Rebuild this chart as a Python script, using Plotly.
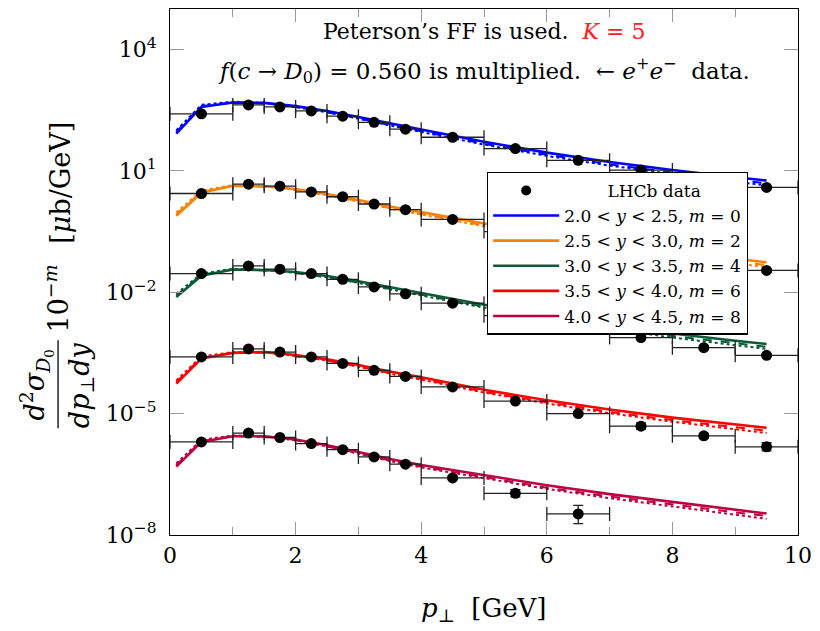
import numpy as np
import plotly.graph_objects as go

# ---------------- data ----------------
# LHCb data: bin centres and edges in pT [GeV]
pt_data = [0.5, 1.25, 1.75, 2.25, 2.75, 3.25, 3.75, 4.5, 5.5, 6.5, 7.5, 8.5, 9.5]
pt_low = [0.0, 1.0, 1.5, 2.0, 2.5, 3.0, 3.5, 4.0, 5.0, 6.0, 7.0, 8.0, 9.0]
pt_high = [1.0, 1.5, 2.0, 2.5, 3.0, 3.5, 4.0, 5.0, 6.0, 7.0, 8.0, 9.0, 10.0]

# log10 of scaled cross-section for each rapidity bin
data_y1 = [2.41, 2.63, 2.58, 2.48, 2.35, 2.20, 2.03, 1.83, 1.55, 1.26, 1.02, 0.80, 0.59]
data_y2 = [0.44, 0.67, 0.62, 0.48, 0.36, 0.18, 0.04, -0.20, -0.50, -0.78, -1.02, -1.22, -1.46]
data_y3 = [-1.54, -1.35, -1.43, -1.54, -1.68, -1.87, -2.04, -2.27, -2.58, -2.88, -3.12, -3.37, -3.56]
data_y4 = [-3.60, -3.40, -3.48, -3.60, -3.76, -3.93, -4.08, -4.34, -4.69, -5.00, -5.31, -5.55, -5.82]
data_y5 = [-5.70, -5.48, -5.59, -5.74, -5.89, -6.07, -6.25, -6.59, -6.97, -7.48]

# log10 error half-widths (up / down)
err_up1 = [0.03] * 13
err_up2 = [0.03] * 13
err_up3 = [0.03] * 13
err_up4 = [0.03, 0.03, 0.03, 0.03, 0.03, 0.03, 0.03, 0.03, 0.03, 0.04, 0.08, 0.06, 0.10]
err_up5 = [0.03, 0.03, 0.03, 0.03, 0.03, 0.03, 0.03, 0.04, 0.09, 0.21]
err_dn5 = [0.03, 0.03, 0.03, 0.03, 0.03, 0.03, 0.03, 0.04, 0.09, 0.24]

# theory curves
pt_th = [0.1, 0.5, 1.0, 1.5, 2.0, 2.5, 3.0, 3.5, 4.0, 5.0, 6.0, 7.0, 8.0, 9.0, 9.5]
th1_solid = [1.92, 2.58, 2.69, 2.68, 2.60, 2.48, 2.33, 2.17, 2.02, 1.72, 1.45, 1.22, 1.02, 0.84, 0.76]
th1_dash = [1.96, 2.60, 2.69, 2.67, 2.58, 2.45, 2.30, 2.13, 1.98, 1.67, 1.40, 1.16, 0.96, 0.77, 0.69]
th1_dot = [2.00, 2.63, 2.71, 2.68, 2.58, 2.45, 2.29, 2.12, 1.96, 1.65, 1.37, 1.13, 0.92, 0.73, 0.64]
th2_solid = [-0.11, 0.46, 0.63, 0.62, 0.55, 0.43, 0.28, 0.12, -0.02, -0.30, -0.56, -0.80, -1.00, -1.18, -1.26]
th2_dash = [-0.07, 0.48, 0.63, 0.61, 0.53, 0.40, 0.25, 0.08, -0.06, -0.35, -0.61, -0.86, -1.06, -1.25, -1.33]
th2_dot = [-0.03, 0.51, 0.65, 0.62, 0.53, 0.40, 0.24, 0.07, -0.08, -0.37, -0.64, -0.89, -1.10, -1.29, -1.38]
th3_solid = [-2.12, -1.59, -1.44, -1.45, -1.50, -1.60, -1.73, -1.88, -2.02, -2.31, -2.57, -2.81, -3.02, -3.20, -3.28]
th3_dash = [-2.08, -1.57, -1.44, -1.46, -1.52, -1.63, -1.76, -1.92, -2.06, -2.36, -2.62, -2.87, -3.08, -3.27, -3.35]
th3_dot = [-2.04, -1.54, -1.42, -1.45, -1.52, -1.63, -1.77, -1.93, -2.08, -2.38, -2.65, -2.90, -3.12, -3.31, -3.40]
th4_solid = [-4.26, -3.64, -3.50, -3.48, -3.55, -3.66, -3.80, -3.96, -4.10, -4.41, -4.67, -4.90, -5.10, -5.27, -5.35]
th4_dash = [-4.22, -3.62, -3.50, -3.49, -3.57, -3.69, -3.83, -4.00, -4.14, -4.46, -4.72, -4.96, -5.16, -5.34, -5.42]
th4_dot = [-4.18, -3.59, -3.48, -3.48, -3.57, -3.69, -3.84, -4.01, -4.16, -4.48, -4.75, -4.99, -5.20, -5.39, -5.48]
th5_solid = [-6.31, -5.70, -5.56, -5.56, -5.64, -5.78, -5.95, -6.12, -6.27, -6.52, -6.77, -6.99, -7.18, -7.37, -7.47]
th5_dash = [-6.27, -5.68, -5.56, -5.57, -5.66, -5.81, -5.98, -6.16, -6.31, -6.57, -6.83, -7.05, -7.25, -7.44, -7.53]
th5_dot = [-6.23, -5.65, -5.54, -5.56, -5.66, -5.81, -5.99, -6.17, -6.33, -6.60, -6.86, -7.09, -7.29, -7.49, -7.60]

labels = [
    "2.0 &lt; <i>y</i> &lt; 2.5, <i>m</i> = 0",
    "2.5 &lt; <i>y</i> &lt; 3.0, <i>m</i> = 2",
    "3.0 &lt; <i>y</i> &lt; 3.5, <i>m</i> = 4",
    "3.5 &lt; <i>y</i> &lt; 4.0, <i>m</i> = 6",
    "4.0 &lt; <i>y</i> &lt; 4.5, <i>m</i> = 8",
]
colors = ["#0000FF", "#FF8000", "#0B5A38", "#FF0000", "#BF0040"]

ytick_vals = [1e-8, 1e-5, 1e-2, 1e1, 1e4]
ytick_text = ["10<sup>−8</sup>", "10<sup>−5</sup>", "10<sup>−2</sup>", "10<sup>1</sup>", "10<sup>4</sup>"]

FONT = "DejaVu Serif"
NB = "\u00a0"

fig = go.Figure()

theory = [
    (th1_solid, th1_dash, th1_dot),
    (th2_solid, th2_dash, th2_dot),
    (th3_solid, th3_dash, th3_dot),
    (th4_solid, th4_dash, th4_dot),
    (th5_solid, th5_dash, th5_dot),
]

# legend: data first
fig.add_trace(go.Scatter(x=[None], y=[None], mode="markers", name=NB * 8 + "LHCb data",
                         marker=dict(color="black", size=10), showlegend=True))

for i, (s, d, o) in enumerate(theory):
    fig.add_trace(go.Scatter(x=pt_th, y=np.power(10.0, o), mode="lines",
                             line=dict(color=colors[i], width=2, dash="dot"),
                             showlegend=False, hoverinfo="skip"))
    fig.add_trace(go.Scatter(x=pt_th, y=np.power(10.0, d), mode="lines",
                             line=dict(color=colors[i], width=2, dash="dash"),
                             showlegend=False, hoverinfo="skip"))
    fig.add_trace(go.Scatter(x=pt_th, y=np.power(10.0, s), mode="lines",
                             line=dict(color=colors[i], width=2.6),
                             name=labels[i], showlegend=True))

data_sets = [
    (data_y1, err_up1, err_up1),
    (data_y2, err_up2, err_up2),
    (data_y3, err_up3, err_up3),
    (data_y4, err_up4, err_up4),
    (data_y5, err_up5, err_dn5),
]
for yl, eu, ed in data_sets:
    n = len(yl)
    x = np.array(pt_data[:n])
    lo = np.array(pt_low[:n])
    hi = np.array(pt_high[:n])
    yv = np.power(10.0, np.array(yl))
    up = yv * (np.power(10.0, np.array(eu)) - 1)
    dn = yv * (1 - np.power(10.0, -np.array(ed)))
    fig.add_trace(go.Scatter(
        x=x, y=yv, mode="markers",
        marker=dict(color="black", size=11),
        error_x=dict(type="data", symmetric=False, array=hi - x, arrayminus=x - lo,
                     color="#222222", thickness=1.3, width=7),
        error_y=dict(type="data", symmetric=False, array=up, arrayminus=dn,
                     color="#222222", thickness=1.3, width=5),
        showlegend=False))

# plot area geometry
L, R, T, B = 170, 16, 8, 96
W, H = 820, 631
pw, ph = W - L - R, H - T - B


def px(xp):
    return (xp - L) / pw


def py(yp):
    return (H - B - yp) / ph


fig.update_layout(
    width=W, height=H,
    margin=dict(l=L, r=R, t=T, b=B),
    paper_bgcolor="white", plot_bgcolor="white",
    font=dict(family=FONT, color="black", size=20),
    legend=dict(x=px(490), y=py(171), xanchor="left", yanchor="top",
                bgcolor="white", bordercolor="black", borderwidth=1.2,
                font=dict(family=FONT, size=17), tracegroupgap=0,
                itemwidth=66),
    xaxis=dict(range=[0, 10], tickvals=[0, 2, 4, 6, 8, 10], ticks="inside",
               ticklen=13, tickcolor="#999999", tickwidth=1,
               minor=dict(ticks="inside", ticklen=8, dtick=1, tickcolor="#999999"),
               showline=True, linecolor="black", linewidth=1.3, mirror="allticks",
               showgrid=False, zeroline=False,
               tickfont=dict(family=FONT, size=22)),
    yaxis=dict(type="log", range=[-8, 5], tickvals=ytick_vals, ticktext=ytick_text,
               ticks="inside", ticklen=14, tickcolor="#999999", tickwidth=1,
               showline=True, linecolor="black", linewidth=1.3, mirror="allticks",
               showgrid=False, zeroline=False, ticklabelstandoff=8,
               tickfont=dict(family=FONT, size=22)),
)

# x-axis title
fig.add_annotation(xref="paper", yref="paper", x=px(487), y=py(610),
                   text="<i>p</i><sub>⊥</sub>" + NB + NB + "[GeV]", showarrow=False,
                   font=dict(family=FONT, size=26), xanchor="center", yanchor="middle")

# y-axis title as rotated fraction
YT = 27
fig.add_annotation(xref="paper", yref="paper", x=px(35), y=py(385),
                   text="<i>d</i><sup>2</sup><i>σ</i><sub><i>D</i><sub>0</sub></sub>", showarrow=False,
                   textangle=-90, font=dict(family=FONT, size=YT), xanchor="center", yanchor="middle")
fig.add_annotation(xref="paper", yref="paper", x=px(80), y=py(385),
                   text="<i>dp</i><sub>⊥</sub><i>dy</i>", showarrow=False,
                   textangle=-90, font=dict(family=FONT, size=YT), xanchor="center", yanchor="middle")
fig.add_shape(type="line", xref="paper", yref="paper", x0=px(57), x1=px(57), y0=py(340), y1=py(428),
              line=dict(color="black", width=1.3))
fig.add_annotation(xref="paper", yref="paper", x=px(55), y=py(298),
                   text="10<sup>−<i>m</i></sup>", showarrow=False,
                   textangle=-90, font=dict(family=FONT, size=YT), xanchor="center", yanchor="middle")
fig.add_annotation(xref="paper", yref="paper", x=px(60), y=py(182),
                   text="[<i>μ</i>b/GeV]", showarrow=False,
                   textangle=-90, font=dict(family=FONT, size=YT), xanchor="center", yanchor="middle")

# in-plot text
fig.add_annotation(xref="paper", yref="paper", x=px(487), y=py(31),
                   text="Peterson’s FF is used." + NB + NB + "<span style='color:#FF2020'><i>K</i>" + NB + "=" + NB + "5</span>",
                   showarrow=False, font=dict(family=FONT, size=22), xanchor="center", yanchor="middle")
line2 = ("<i>f</i>(<i>c</i>" + NB + "→" + NB + "<i>D</i><sub>0</sub>)" + NB + "=" + NB
         + "0.560 is multiplied." + NB + NB + "←" + NB + "<i>e</i><sup>+</sup><i>e</i><sup>−</sup>" + NB + NB + "data.")
fig.add_annotation(xref="paper", yref="paper", x=px(487), y=py(70),
                   text=line2,
                   showarrow=False, font=dict(family=FONT, size=23), xanchor="center", yanchor="middle")

fig.write_html("out.html")
